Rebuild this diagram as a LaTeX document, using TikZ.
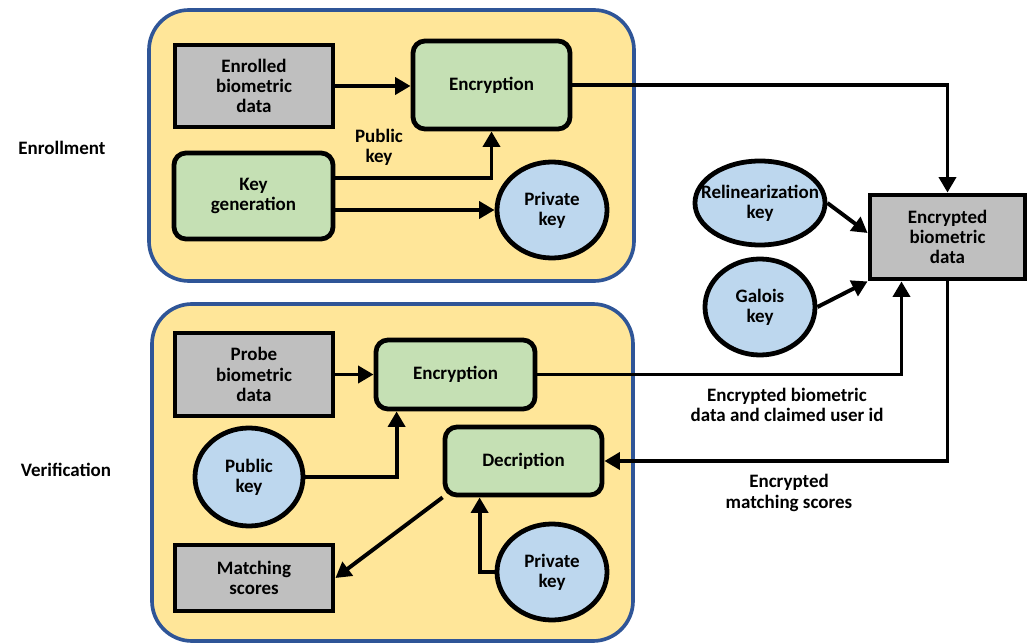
\documentclass[tikz,border=0pt]{standalone}
\usepackage{fontspec}
\setmainfont{Carlito}
\usetikzlibrary{arrows.meta,shapes.geometric}

\definecolor{panelfill}{RGB}{255,230,153}
\definecolor{panelline}{RGB}{47,85,151}
\definecolor{stepfill}{RGB}{197,224,180}
\definecolor{keyfill}{RGB}{189,215,238}
\definecolor{datafill}{RGB}{191,191,191}

\tikzset{
  panel/.style={draw=panelline, fill=panelfill, line width=2.6pt, rounded corners=1cm},
  databox/.style={draw, fill=datafill, line width=3.4pt, align=center, inner sep=0pt},
  stepbox/.style={draw, fill=stepfill, line width=3.4pt, rounded corners=0.3cm, align=center, inner sep=0pt},
  keynode/.style={draw, fill=keyfill, ellipse, line width=3.4pt, align=center, inner sep=0pt},
  arr/.style={-{Triangle[length=11pt,width=12pt]}, line width=2.8pt},
  lbl/.style={align=center}
}

\begin{document}
\begin{tikzpicture}[x=0.025cm, y=-0.025cm, font=\fontsize{13.5}{14.3}\selectfont\bfseries]
	\useasboundingbox (0,0) rectangle (1033,643);

	% Panels
	\draw[panel] (149,10) rectangle (634,281);
	\draw[panel] (152,304) rectangle (633,641);
	\node (enroll) at (62,148) {Enrollment};
	\node (verif) at (66,470) {Verification};

	% Enrollment
	\node[databox, minimum width=3.95cm, minimum height=2.05cm] (enrolled) at (254,86) {Enrolled\\biometric\\data};
	\node[stepbox, minimum width=3.925cm, minimum height=2.2cm] (encE) at (491.5,85) {Encryption};
	\node[stepbox, minimum width=3.975cm, minimum height=2.15cm] (keygen) at (253.5,196) {Key\\generation};
	\node[keynode, minimum width=2.75cm, minimum height=2.4cm] (privE) at (552,210) {Private\\key};
	\node[lbl] (pubE) at (379,147) {Public\\key};

	% Server side
	\node[databox, minimum width=3.875cm, minimum height=2.1cm] (ebd) at (947.5,237) {Encrypted\\biometric\\data};
	\node[keynode, minimum width=3.25cm, minimum height=2.1cm] (relin) at (760,203) {};
	\node[lbl] (relintxt) at (relin) {Relinearization\\key};
	\node[keynode, minimum width=2.75cm, minimum height=2.4cm] (galois) at (760,307) {Galois\\key};
	\node[lbl] (sendlbl) at (787,405) {Encrypted biometric\\data and claimed user id};
	\node[lbl] (scorelbl) at (789,493) {Encrypted\\matching scores};

	% Verification
	\node[databox, minimum width=3.95cm, minimum height=2.075cm] (probe) at (254,374.5) {Probe\\biometric\\data};
	\node[stepbox, minimum width=3.975cm, minimum height=1.725cm] (encV) at (455.5,374.5) {Encryption};
	\node[keynode, minimum width=2.7cm, minimum height=2.45cm] (pubV) at (249,477) {Public\\key};
	\node[stepbox, minimum width=3.925cm, minimum height=1.7cm] (decr) at (523.5,461) {Decription};
	\node[databox, minimum width=3.95cm, minimum height=1.65cm] (match) at (254,578) {Matching\\scores};
	\node[keynode, minimum width=2.75cm, minimum height=2.4cm] (privV) at (552,572) {Private\\key};

	% Arrows
	\draw[arr] (enrolled.east) -- (enrolled.east -| encE.west);
	\draw[arr] ([yshift=0.45cm]keygen.east) -| (encE.south);
	\draw[arr] (keygen.east |- privE.west) -- (privE.west);
	\draw[arr] (encE.east) -| (ebd.north);
	\draw[arr] (relin.east) -- ([yshift=0.1cm]ebd.west);
	\draw[arr] (galois.east) -- (ebd.south west);
	\draw[arr] (probe.east |- encV.west) -- (encV.west);
	\draw[arr] (pubV.east) -| ([xshift=0.575cm]encV.south west);
	\draw[arr] (encV.east) -| ([xshift=-1.15cm]ebd.south);
	\draw[arr] (ebd.south) |- (decr.east);
	\draw[arr] (decr.south west) -- (match.east);
	\draw[arr] (privV.west) -| ([xshift=0.925cm]decr.south west);
\end{tikzpicture}
\end{document}
